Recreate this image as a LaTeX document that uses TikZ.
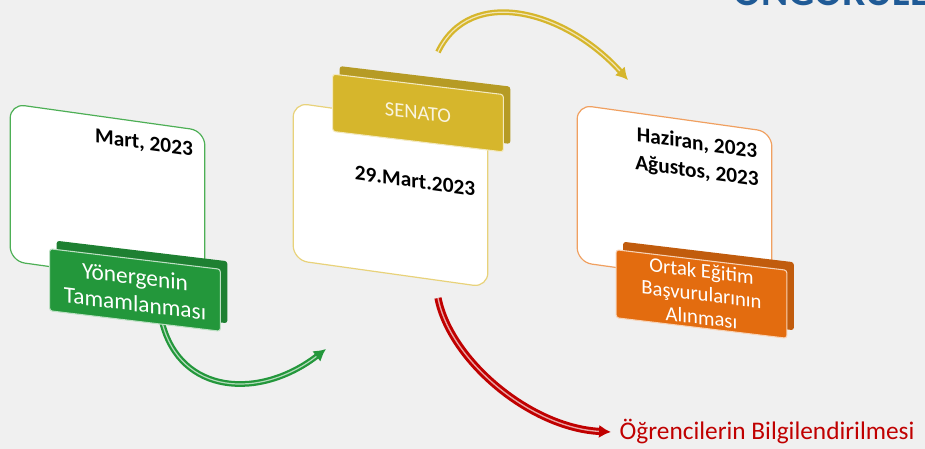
\documentclass[tikz,border=0pt]{standalone}
\usepackage{fontspec}
\setmainfont{Carlito}
\usetikzlibrary{positioning, arrows.meta}
\definecolor{bggray}{HTML}{F0F0F0}
\definecolor{grn}{HTML}{23973B}
\definecolor{grnline}{HTML}{4DAF55}
\definecolor{gold}{HTML}{D6B62C}
\definecolor{goldline}{HTML}{E8D27A}
\definecolor{orng}{HTML}{E36C0F}
\definecolor{orngline}{HTML}{F0A060}
\definecolor{darkred}{HTML}{C00000}
\definecolor{titleblue}{HTML}{1F5A96}

\begin{document}
\begin{tikzpicture}[x=0.75pt, y=-0.75pt,
	card/.style={draw=#1, line width=0.9pt, fill=white, rounded corners=11pt, minimum width=146pt, minimum height=118pt, yslant=-0.14},
	tagback/.style={fill=#1!85!black, rounded corners=2pt, minimum width=128pt, yslant=-0.12},
	tagfront/.style={fill=#1, draw=white!70!#1, line width=0.8pt, rounded corners=2pt, minimum width=128pt, yslant=-0.12},
	tagtext/.style={draw=none, fill=none, inner sep=0pt, align=center, yslant=-0.12},
	datetext/.style={draw=none, fill=none, font=\bfseries\fontsize{16pt}{21pt}\selectfont, align=center, yslant=-0.14},
	flowarrow/.style={draw=#1, double=white!65!#1, double distance=0.9pt, line width=1.7pt, -{Latex[length=9pt,width=10pt]}}
	]
			\fill[bggray] (0,0) rectangle (925,449);
			\useasboundingbox (0,0) rectangle (925,449);

			\node[anchor=base west, inner sep=0pt, text=titleblue, font=\bfseries\fontsize{31pt}{31pt}\selectfont] (title) at (733,6) {ÖNGÖRÜLEN};

			\node[card=grnline]   (mart)    at (107.5,196) {};
			\node[card=goldline]  (senato)  at (390.5,195) {};
			\node[card=orngline]  (haziran) at (674.5,197) {};

			\coordinate (gs) at (162,322);
			\coordinate (ge) at (326,349);
			\coordinate (rs) at (438,298);
			\coordinate (re) at (611,432);
			\coordinate (ys) at (438,52);
			\coordinate (ye) at (628,80);

			\draw[flowarrow=grn] (gs) .. controls (180,395) and (260,400) .. (ge);
			\draw[flowarrow=darkred, line width=2.2pt, double distance=1pt] (rs) .. controls (450,360) and (530,428) .. (re);
			\draw[flowarrow=gold] (ys) .. controls (470,-15) and (565,10) .. (ye);

			\node[datetext] (martdate)    at (144,144) {Mart, 2023};
			\node[datetext] (senatodate)  at (415,181) {29.Mart.2023};
			\node[datetext] (hazirandate) at (697,158) {Haziran, 2023\\Ağustos, 2023};

			\node[tagback=grn, minimum height=46.5pt]   (yonback) at (142,282) {};
			\node[tagfront=grn, minimum height=46.5pt]  (yon)     at (135,290) {};
			\node[tagtext, text=white, font=\fontsize{17.5pt}{20pt}\selectfont] (yontext) at (yon.center) {Yönergenin\\Tamamlanması};

			\node[tagback=gold, minimum height=43pt]  (senback) at (425,105) {};
			\node[tagfront=gold, minimum height=43pt] (sen)     at (418,113) {};
			\node[tagtext, text=white!85!gold, font=\fontsize{15.4pt}{19pt}\selectfont] (sentext) at (sen.center) {SENATO};

			\node[tagback=orng, minimum height=51pt]  (basback) at (708.5,286) {};
			\node[tagfront=orng, minimum height=51pt] (bas)     at (701.5,294) {};
			\node[tagtext, text=white, font=\fontsize{15.5pt}{17.5pt}\selectfont] (bastext) at (bas.center) {Ortak Eğitim\\Başvurularının\\Alınması};

			\node[draw=none, fill=none, right=3pt of re, text=darkred, font=\fontsize{19pt}{23pt}\selectfont] (info) {Öğrencilerin Bilgilendirilmesi};
		\end{tikzpicture}
\end{document}
